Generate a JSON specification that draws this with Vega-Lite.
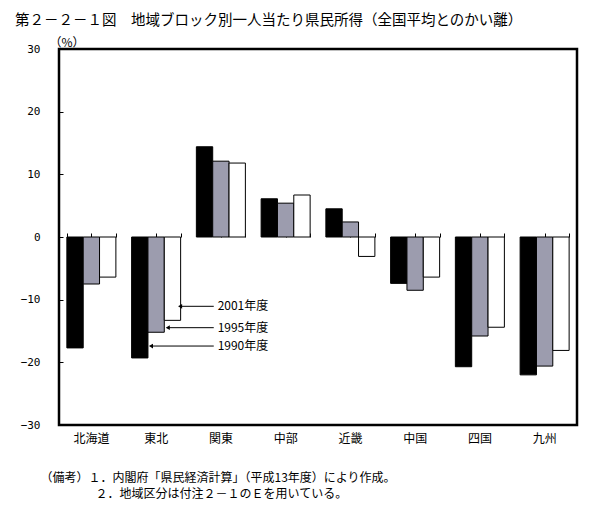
{
  "$schema": "https://vega.github.io/schema/vega-lite/v6.json",
  "width": 518,
  "height": 376,
  "autosize": "none",
  "padding": {"left": 59, "top": 49, "right": 30, "bottom": 81},
  "background": "white",
  "config": {
    "font": "Noto Sans CJK JP",
    "view": {"stroke": "black", "strokeWidth": 2.5}
  },
  "title": {
    "text": "第２－２－１図　地域ブロック別一人当たり県民所得（全国平均とのかい離）",
    "anchor": "start",
    "frame": "group",
    "dx": -44,
    "offset": 8,
    "fontSize": 14.5,
    "fontWeight": "normal",
    "font": "Noto Sans CJK JP",
    "color": "black"
  },
  "datasets": {
    "income": [
      {"region": "北海道", "year": "1990年度", "value": -17.7},
      {"region": "北海道", "year": "1995年度", "value": -7.5},
      {"region": "北海道", "year": "2001年度", "value": -6.4},
      {"region": "東北", "year": "1990年度", "value": -19.3},
      {"region": "東北", "year": "1995年度", "value": -15.2},
      {"region": "東北", "year": "2001年度", "value": -13.3},
      {"region": "関東", "year": "1990年度", "value": 14.4},
      {"region": "関東", "year": "1995年度", "value": 12.1},
      {"region": "関東", "year": "2001年度", "value": 11.8},
      {"region": "中部", "year": "1990年度", "value": 6.1},
      {"region": "中部", "year": "1995年度", "value": 5.4},
      {"region": "中部", "year": "2001年度", "value": 6.7},
      {"region": "近畿", "year": "1990年度", "value": 4.5},
      {"region": "近畿", "year": "1995年度", "value": 2.4},
      {"region": "近畿", "year": "2001年度", "value": -3.1},
      {"region": "中国", "year": "1990年度", "value": -7.4},
      {"region": "中国", "year": "1995年度", "value": -8.5},
      {"region": "中国", "year": "2001年度", "value": -6.4},
      {"region": "四国", "year": "1990年度", "value": -20.7},
      {"region": "四国", "year": "1995年度", "value": -15.8},
      {"region": "四国", "year": "2001年度", "value": -14.4},
      {"region": "九州", "year": "1990年度", "value": -22.0},
      {"region": "九州", "year": "1995年度", "value": -20.6},
      {"region": "九州", "year": "2001年度", "value": -18.1}
    ],
    "notes": [
      {"label": "2001年度", "y": -11.06, "tip": 1.87, "end": 2.39, "tx": 2.45},
      {"label": "1995年度", "y": -14.47, "tip": 1.68, "end": 2.39, "tx": 2.45},
      {"label": "1990年度", "y": -17.4, "tip": 1.42, "end": 2.39, "tx": 2.45}
    ]
  },
  "resolve": {"scale": {"x": "independent"}, "axis": {"x": "independent"}},
  "layer": [
    {
      "data": {"name": "income"},
      "mark": {"type": "bar", "stroke": "black", "strokeWidth": 1},
      "encoding": {
        "x": {
          "field": "region",
          "type": "nominal",
          "sort": ["北海道", "東北", "関東", "中部", "近畿", "中国", "四国", "九州"],
          "scale": {"paddingInner": 0.243, "paddingOuter": 0.1215},
          "axis": {
            "orient": "bottom",
            "domain": false,
            "ticks": false,
            "labelAngle": 0,
            "labelFontSize": 12,
            "labelColor": "black",
            "labelPadding": 8,
            "title": "（備考）１．内閣府「県民経済計算」（平成13年度）により作成。",
            "titleFontSize": 12,
            "titleFontWeight": "normal",
            "titleColor": "black",
            "titleAnchor": "start",
            "titleAlign": "left",
            "titleBaseline": "middle",
            "titleX": -19,
            "titleY": 52
          }
        },
        "xOffset": {
          "field": "year",
          "type": "nominal",
          "scale": {"paddingInner": 0, "paddingOuter": 0}
        },
        "y": {
          "field": "value",
          "type": "quantitative",
          "scale": {"domain": [-30, 30], "nice": false, "zero": false},
          "axis": {
            "values": [-30, -20, -10, 0, 10, 20, 30],
            "grid": false,
            "domain": false,
            "ticks": true,
            "tickSize": -4,
            "tickColor": "black",
            "labelFontSize": 11,
            "labelColor": "black",
            "labelPadding": 23,
            "labelFont": "DejaVu Sans Mono",
            "title": "（%）",
            "titleAngle": 0,
            "titleAlign": "left",
            "titleBaseline": "middle",
            "titleX": -10,
            "titleY": -7,
            "titleFontSize": 12,
            "titleFontWeight": "normal",
            "titleColor": "black"
          }
        },
        "color": {
          "field": "year",
          "type": "nominal",
          "scale": {"domain": ["1990年度", "1995年度", "2001年度"], "range": ["black", "#9c9cae", "white"]},
          "legend": null
        }
      }
    },
    {
      "mark": {"type": "rule", "color": "black", "strokeWidth": 1.5},
      "encoding": {"y": {"datum": 0, "type": "quantitative"}}
    },
    {
      "data": {"name": "income"},
      "mark": {"type": "point", "opacity": 0},
      "encoding": {
        "x": {
          "field": "region",
          "type": "nominal",
          "sort": ["北海道", "東北", "関東", "中部", "近畿", "中国", "四国", "九州"],
          "scale": {"paddingInner": 0.243, "paddingOuter": 0.1215},
          "axis": {
            "orient": "top", "offset": -188, "labels": false, "domain": false, "ticks": true, "tickSize": 4, "tickColor": "black",
            "title": "２．地域区分は付注２－１のＥを用いている。",
            "titleFontSize": 12,
            "titleFontWeight": "normal",
            "titleColor": "black",
            "titleAnchor": "start",
            "titleAlign": "left",
            "titleBaseline": "middle",
            "titleX": 36,
            "titleY": 256
          }
        },
        "y": {"datum": 0, "type": "quantitative"}
      }
    },
    {
      "data": {"name": "income"},
      "mark": {"type": "point", "opacity": 0},
      "encoding": {
        "x": {
          "field": "region",
          "type": "nominal",
          "sort": ["北海道", "東北", "関東", "中部", "近畿", "中国", "四国", "九州"],
          "scale": {"paddingInner": 0.243, "paddingOuter": 0.1215},
          "axis": {"orient": "top", "offset": -188, "labels": false, "domain": false, "ticks": true, "tickBand": "extent", "tickSize": 4, "tickColor": "black", "title": null}
        },
        "y": {"datum": 0, "type": "quantitative"}
      }
    },
    {
      "data": {"name": "notes"},
      "encoding": {
        "y": {"field": "y", "type": "quantitative"}
      },
      "layer": [
        {
          "mark": {"type": "rule", "color": "black", "strokeWidth": 1},
          "encoding": {
            "x": {"field": "tip", "type": "quantitative", "scale": {"domain": [0, 8], "nice": false, "zero": false}, "axis": null},
            "x2": {"field": "end"}
          }
        },
        {
          "mark": {"type": "point", "shape": "triangle-left", "filled": true, "color": "black", "size": 22, "opacity": 1},
          "encoding": {
            "x": {"field": "tip", "type": "quantitative", "scale": {"domain": [0, 8], "nice": false, "zero": false}, "axis": null}
          }
        },
        {
          "mark": {"type": "text", "align": "left", "baseline": "middle", "fontSize": 12, "color": "black"},
          "encoding": {
            "x": {"field": "tx", "type": "quantitative", "scale": {"domain": [0, 8], "nice": false, "zero": false}, "axis": null},
            "text": {"field": "label"}
          }
        }
      ]
    }
  ]
}
